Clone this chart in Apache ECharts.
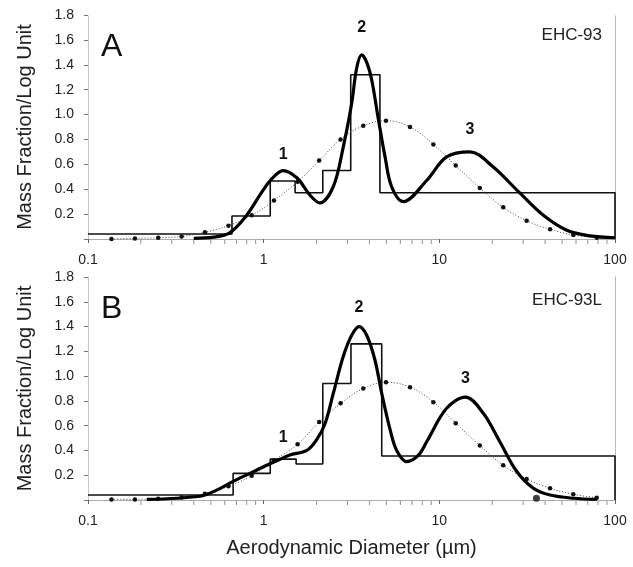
<!DOCTYPE html>
<html>
<head>
<meta charset="utf-8">
<script src="https://cdn.jsdelivr.net/npm/echarts@6/dist/echarts.min.js"></script>
<style>
html,body{margin:0;padding:0;background:#fff;}
#c{width:633px;height:567px;}
</style>
</head>
<body>
<div id="c"></div>
<script>
// ---------- data ----------
const histEdgesA = [0.1, 0.66, 1.09, 1.51, 2.17, 3.13, 4.59, 100];
const histValsA  = [0.04, 0.185, 0.466, 0.372, 0.55, 1.32, 0.372];
const histEdgesB = [0.1, 0.67, 1.09, 1.53, 2.17, 3.14, 4.70, 100];
const histValsB  = [0.04, 0.215, 0.33, 0.29, 0.94, 1.26, 0.355];

const fitXA = [0.40, 0.52, 0.64, 0.78, 0.98, 1.09, 1.29, 1.55, 1.84, 2.09, 2.49, 2.84, 3.17, 3.38, 3.61, 3.86, 4.12, 4.50, 4.91, 5.35, 6.24, 8.47, 11.0, 14.96, 20.2, 28.7, 39.1, 53.1, 72.1, 100];
const fitYA = [0.005, 0.015, 0.05, 0.17, 0.38, 0.47, 0.55, 0.49, 0.35, 0.29, 0.42, 0.74, 1.09, 1.37, 1.48, 1.42, 1.28, 0.96, 0.66, 0.42, 0.30, 0.47, 0.66, 0.70, 0.58, 0.37, 0.19, 0.07, 0.025, 0.01];

const fitXB = [0.216, 0.434, 0.54, 0.67, 0.835, 1.04, 1.29, 1.41, 1.76, 2.00, 2.24, 2.49, 2.84, 3.17, 3.49, 3.86, 4.30, 4.70, 5.24, 5.72, 6.52, 7.59, 8.47, 11.0, 14.1, 17.8, 22.1, 27.6, 34.3, 42.7, 57.9, 78.7];
const fitYB = [0.005, 0.03, 0.08, 0.15, 0.215, 0.28, 0.34, 0.364, 0.40, 0.485, 0.62, 0.86, 1.16, 1.33, 1.40, 1.33, 1.13, 0.86, 0.57, 0.40, 0.31, 0.36, 0.47, 0.74, 0.83, 0.70, 0.47, 0.23, 0.095, 0.04, 0.014, 0.005];

const dotX  = [0.136, 0.185, 0.251, 0.341, 0.463, 0.630, 0.855, 1.145, 1.56, 2.07, 2.74, 3.69, 4.97, 6.81, 9.25, 12.4, 17.0, 23.1, 31.4, 42.7, 57.9, 78.7];
const dotYA = [0.0, 0.005, 0.01, 0.02, 0.054, 0.107, 0.19, 0.31, 0.46, 0.63, 0.80, 0.91, 0.95, 0.90, 0.76, 0.59, 0.41, 0.255, 0.147, 0.078, 0.032, 0.01];
const dotYB = [0.005, 0.005, 0.01, 0.02, 0.05, 0.11, 0.196, 0.32, 0.45, 0.63, 0.78, 0.90, 0.95, 0.91, 0.79, 0.62, 0.44, 0.28, 0.17, 0.095, 0.046, 0.019];

const strayDotB = [[35.7, 0.014]];

const modeLabels = ['1', '2', '3'];
const modeXA = [1.29, 3.61, 14.96];
const modeYA = [0.675, 1.70, 0.88];
const modeXB = [1.29, 3.49, 14.1];
const modeYB = [0.50, 1.55, 0.98];

const minorTicks = [0.2,0.3,0.4,0.5,0.6,0.7,0.8,0.9,2,3,4,5,6,7,8,9,20,30,40,50,60,70,80,90];
const panelNames = ['A', 'B'];
const sampleNames = ['EHC-93', 'EHC-93L'];

// ---------- helpers ----------
function stepPts(edges, vals) {
  const pts = [];
  for (let i = 0; i < vals.length; i++) {
    pts.push([edges[i], vals[i]]);
    pts.push([edges[i + 1], vals[i]]);
  }
  pts.push([edges[edges.length - 1], 0]);
  return pts;
}
function zip(xs, ys) { return xs.map((x, i) => [x, ys[i]]); }

const FONT = '"Liberation Sans", Arial, Helvetica, sans-serif';
const grids = [
  {left: 88, top: 15, width: 527, height: 224},
  {left: 88, top: 277, width: 527, height: 223}
];

const xAxes = [], yAxes = [], series = [];
[0, 1].forEach(p => {
  xAxes.push({
    type: 'log', logBase: 10, min: 0.1, max: 100, gridIndex: p,
    axisLine: {show: true, lineStyle: {color: '#888', type: 'dotted', width: 1}},
    axisTick: {show: true, length: 4, lineStyle: {color: '#666'}},
    axisLabel: {show: true, fontFamily: FONT, fontSize: 14, color: '#222', margin: 14,
      formatter: v => (v < 1 ? '0.1' : String(Math.round(v)))},
    splitLine: {show: false},
    name: p === 1 ? 'Aerodynamic Diameter (\u00b5m)' : '',
    nameLocation: 'middle', nameGap: 38,
    nameTextStyle: {fontFamily: FONT, fontSize: 20, color: '#222'}
  });
  xAxes.push({
    type: 'log', logBase: 10, min: 0.1, max: 100, gridIndex: p, position: 'top',
    axisLine: {show: true, lineStyle: {color: '#aaa', type: 'dotted', width: 1}},
    axisTick: {show: false}, axisLabel: {show: false}, splitLine: {show: false}
  });
  yAxes.push({
    type: 'value', min: 0, max: 1.8, interval: 0.2, gridIndex: p,
    axisLine: {show: true, lineStyle: {color: '#bbb', type: 'dotted', width: 1}},
    axisTick: {show: true, length: 4, lineStyle: {color: '#777'}},
    axisLabel: {fontFamily: FONT, fontSize: 14, color: '#222', margin: 14,
      formatter: v => (v === 0 ? '' : v.toFixed(1))},
    splitLine: {show: false},
    name: 'Mass Fraction/Log Unit', nameLocation: 'middle', nameGap: 53,
    nameTextStyle: {fontFamily: FONT, fontSize: 20, color: '#222'}
  });
  yAxes.push({
    type: 'value', min: 0, max: 1.8, gridIndex: p, position: 'right',
    axisLine: {show: true, lineStyle: {color: '#aaa', type: 'dotted', width: 1}},
    axisTick: {show: false}, axisLabel: {show: false}, splitLine: {show: false}
  });

  const xi = p * 2, yi = p * 2;
  const hist = p === 0 ? stepPts(histEdgesA, histValsA) : stepPts(histEdgesB, histValsB);
  const fit = p === 0 ? zip(fitXA, fitYA) : zip(fitXB, fitYB);
  const dots = p === 0 ? zip(dotX, dotYA) : zip(dotX, dotYB);
  const mX = p === 0 ? modeXA : modeXB;
  const mY = p === 0 ? modeYA : modeYB;

  series.push({
    type: 'scatter', xAxisIndex: xi, yAxisIndex: yi, silent: true,
    data: minorTicks.map(v => [v, 0]),
    symbol: 'rect', symbolSize: [1, 4], symbolOffset: [0, 3],
    itemStyle: {color: '#777'}, z: 1
  });
  series.push({
    type: 'line', xAxisIndex: xi, yAxisIndex: yi, data: hist,
    showSymbol: false, symbol: 'none', silent: true,
    lineStyle: {color: '#111', width: 1.6}, z: 3
  });
  series.push({
    type: 'line', xAxisIndex: xi, yAxisIndex: yi, data: dots,
    smooth: 0.4, symbol: 'circle', symbolSize: 4.5, showSymbol: true,
    itemStyle: {color: '#111'}, silent: true,
    lineStyle: {color: '#444', width: 1, type: [1, 2]}, z: 4
  });
  series.push({
    type: 'line', xAxisIndex: xi, yAxisIndex: yi, data: fit,
    smooth: 0.35, symbol: 'none', silent: true,
    lineStyle: {color: '#000', width: 3.2}, z: 5,
    markPoint: {
      symbol: 'rect', symbolSize: 1, itemStyle: {color: 'rgba(0,0,0,0)'},
      label: {show: true, position: 'inside', formatter: '{b}',
        fontFamily: FONT, fontSize: 16, fontWeight: 'bold', color: '#111'},
      data: modeLabels.map((t, i) => ({name: t, coord: [mX[i], mY[i]]}))
    }
  });
  if (p === 1) {
    series.push({
      type: 'scatter', xAxisIndex: xi, yAxisIndex: yi, data: strayDotB,
      symbol: 'circle', symbolSize: 7, itemStyle: {color: '#111'}, silent: true, z: 6
    });
  }
});

const graphic = [];
[0, 1].forEach(p => {
  graphic.push({type: 'text', left: 101, top: grids[p].top + 16,
    style: {text: panelNames[p], font: '32px ' + FONT, fill: '#111'}});
  graphic.push({type: 'text', right: 31, top: grids[p].top + (p === 0 ? 12 : 15),
    style: {text: sampleNames[p], font: '17px ' + FONT, fill: '#222'}});
});

const chart = echarts.init(document.getElementById('c'), null, {renderer: 'canvas'});
chart.setOption({
  animation: false,
  backgroundColor: '#fff',
  grid: grids,
  xAxis: xAxes,
  yAxis: yAxes,
  series: series,
  graphic: graphic
});
</script>
</body>
</html>
